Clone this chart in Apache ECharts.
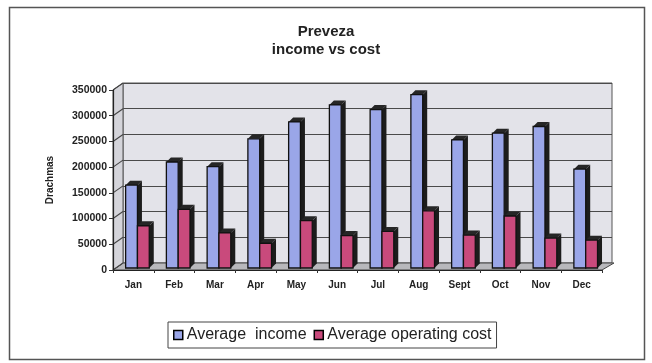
<!DOCTYPE html>
<html>
<head>
<meta charset="utf-8">
<script src="https://cdn.jsdelivr.net/npm/echarts@6/dist/echarts.min.js"></script>
<style>html,body{margin:0;padding:0;background:#fff;}#c{width:652px;height:363px;}</style>
</head>
<body>
<div id="c"></div>
<script>
const months = ['Jan','Feb','Mar','Apr','May','Jun','Jul','Aug','Sept','Oct','Nov','Dec'];
const income = [165000, 210000, 201000, 255000, 288000, 321000, 312000, 341000, 253000, 266000, 279000, 196000];
const cost = [86000, 118000, 72000, 52000, 96000, 67000, 75000, 115000, 68000, 105000, 62000, 58000];
const yTicks = [0, 50000, 100000, 150000, 200000, 250000, 300000, 350000];
const seriesNames = ['Average  income', 'Average operating cost'];
const titleLines = ['Preveza', 'income vs cost'];
const yName = 'Drachmas';

const BLUE = '#9aa6e8', PINK = '#c94a7c';
const DX = 10, DY = -7;
const FONT = 'Arial, "Liberation Sans", sans-serif';

function barRender(offsetFrac, color) {
  return function (params, api) {
    const idx = api.value(0), v = api.value(1);
    const top = api.coord([idx, v]);
    const base = api.coord([idx, 0]);
    const w = api.size([1, 0])[0];
    const x0 = top[0] - w / 2 + offsetFrac * w;
    const bw = 0.29 * w;
    const d = 4.5;
    const yT = top[1], yB = base[1] - 2;
    return {
      type: 'group',
      children: [
        { type: 'polygon', shape: { points: [[x0 + bw, yB], [x0 + bw, yT], [x0 + bw + d, yT - d], [x0 + bw + d, yB - d]] }, style: { fill: '#1c1c1c' } },
        { type: 'polygon', shape: { points: [[x0, yT], [x0 + bw, yT], [x0 + bw + d, yT - d], [x0 + d, yT - d]] }, style: { fill: '#262626' } },
        { type: 'rect', shape: { x: x0, y: yT, width: bw, height: yB - yT }, style: { fill: color, stroke: '#111', lineWidth: 1.3 } }
      ]
    };
  };
}

function floorRender(params, api) {
  const w = api.size([1, 0])[0];
  const a = api.coord([0, 0]);
  const b = api.coord([months.length - 1, 0]);
  const xl = a[0] - w / 2, xr = b[0] + w / 2, y = a[1];
  return {
    type: 'polygon',
    shape: { points: [[xl, y], [xr, y], [xr + DX + 2, y + DY], [xl + DX, y + DY]] },
    style: { fill: '#b8b8bc', stroke: '#444', lineWidth: 1 }
  };
}

function leftWallRender(params, api) {
  const w = api.size([1, 0])[0];
  const c = api.coord([0, api.value(1)]);
  const x = c[0] - w / 2;
  const children = [];
  if (params.dataIndex === 0) {
    const t = api.coord([0, yTicks[yTicks.length - 1]]);
    children.push({
      type: 'polygon',
      shape: { points: [[x, c[1]], [x, t[1]], [x + DX, t[1] + DY], [x + DX, c[1] + DY]] },
      style: { fill: '#d4d4da', stroke: '#555', lineWidth: 1 }
    });
  }
  children.push({ type: 'line', shape: { x1: x, y1: c[1], x2: x + DX, y2: c[1] + DY }, style: { stroke: '#444', lineWidth: 1.1 } });
  return { type: 'group', children: children };
}

const chart = echarts.init(document.getElementById('c'), null, { renderer: 'canvas' });
chart.setOption({
  animation: false,
  backgroundColor: '#ffffff',
  title: {
    text: titleLines.join('\n'),
    left: 'center',
    top: 18,
    textStyle: { fontFamily: FONT, fontSize: 15, fontWeight: 'bold', color: '#222', lineHeight: 18 }
  },
  graphic: [
    { type: 'rect', left: 7, top: 5, shape: { width: 635, height: 352 }, style: { fill: 'none', stroke: '#555', lineWidth: 1.5 }, z: 100 }
  ],
  legend: {
    data: seriesNames,
    left: 168,
    top: 322,
    orient: 'horizontal',
    itemWidth: 9,
    itemHeight: 9,
    itemGap: 7,
    padding: [5, 5, 5, 5],
    borderColor: '#444',
    borderWidth: 1,
    icon: 'rect',
    itemStyle: { borderColor: '#000', borderWidth: 1.5 },
    textStyle: { fontFamily: FONT, fontSize: 16, color: '#222', padding: [0, 0, 0, -1] }
  },
  grid: [
    { left: 113, right: 50, top: 90, bottom: 93 },
    { left: 123, right: 40, top: 83, bottom: 100, show: true, backgroundColor: '#e3e3e9', borderColor: '#555', borderWidth: 1, z: 0 }
  ],
  xAxis: [
    {
      type: 'category', data: months, gridIndex: 0,
      axisLine: { show: true, lineStyle: { color: '#222', width: 1.2 } },
      axisTick: { show: true, length: 3, lineStyle: { color: '#333' } },
      axisLabel: { fontFamily: FONT, fontSize: 10, fontWeight: 'bold', color: '#222', margin: 10 },
      z: 5
    },
    { type: 'category', data: months, gridIndex: 1, show: false }
  ],
  yAxis: [
    {
      type: 'value', gridIndex: 0, min: 0, max: 350000, interval: 50000,
      name: yName, nameLocation: 'middle', nameRotate: 90, nameGap: 58,
      nameTextStyle: { fontFamily: FONT, fontSize: 10, fontWeight: 'bold', color: '#222' },
      axisLine: { show: true, lineStyle: { color: '#222', width: 1.2 } },
      axisTick: { show: true, length: 4, lineStyle: { color: '#333' } },
      axisLabel: { fontFamily: FONT, fontSize: 10.5, fontWeight: 'bold', color: '#222', margin: 6, formatter: function (v) { return String(v); } },
      splitLine: { show: false },
      z: 5
    },
    {
      type: 'value', gridIndex: 1, min: 0, max: 350000, interval: 50000,
      axisLine: { show: false }, axisTick: { show: false }, axisLabel: { show: false },
      splitLine: { show: true, lineStyle: { color: '#4a4a4a', width: 1.1 } }
    }
  ],
  series: [
    {
      type: 'custom', name: 'floor', xAxisIndex: 0, yAxisIndex: 0, silent: true, z: 1,
      data: [[0, 0]], renderItem: floorRender, encode: { x: 0, y: 1 }
    },
    {
      type: 'custom', name: 'leftwall', xAxisIndex: 0, yAxisIndex: 0, silent: true, z: 1,
      data: yTicks.map(function (v) { return [0, v]; }), renderItem: leftWallRender, encode: { x: 0, y: 1 }
    },
    {
      type: 'custom', name: seriesNames[0], xAxisIndex: 0, yAxisIndex: 0, z: 3,
      itemStyle: { color: BLUE },
      data: income.map(function (v, i) { return [i, v]; }),
      renderItem: barRender(0.31, BLUE), encode: { x: 0, y: 1 }
    },
    {
      type: 'custom', name: seriesNames[1], xAxisIndex: 0, yAxisIndex: 0, z: 3,
      itemStyle: { color: PINK },
      data: cost.map(function (v, i) { return [i, v]; }),
      renderItem: barRender(0.60, PINK), encode: { x: 0, y: 1 }
    }
  ]
});
</script>
</body>
</html>
